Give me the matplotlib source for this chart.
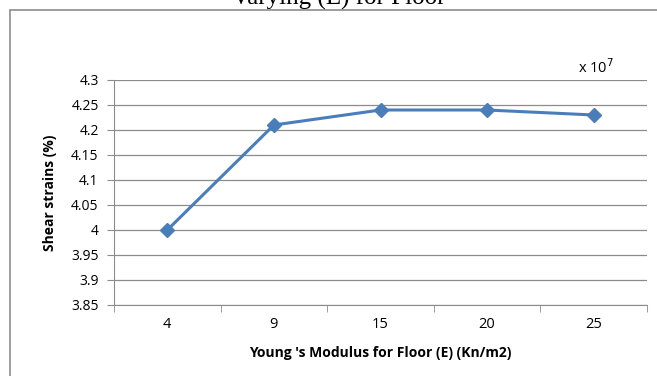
import matplotlib.pyplot as plt
from matplotlib.patches import Rectangle

# Data
categories = ['4', '9', '15', '20', '25']
shear_strain = [4.00, 4.21, 4.24, 4.24, 4.23]
y_ticks = [3.85, 3.9, 3.95, 4.0, 4.05, 4.1, 4.15, 4.2, 4.25, 4.3]
y_tick_labels = ['3.85', '3.9', '3.95', '4', '4.05', '4.1', '4.15', '4.2', '4.25', '4.3']

plt.rcParams['font.family'] = ['Open Sans', 'DejaVu Sans']

fig = plt.figure(figsize=(6.57, 3.76), dpi=100)
ax = fig.add_axes([114 / 657, 1 - 305 / 376, 533 / 657, 225 / 376])

# Chart border (right and bottom run off the image)
fig.patches.append(Rectangle((10 / 657, -0.1), 1.2, 1.1 - 10 / 376, transform=fig.transFigure,
                             fill=False, edgecolor='#8c8c8c', linewidth=1.2))

# Title, cut off at the top as in the source
fig.text(339 / 657, 1 - 5 / 376, 'Varying (E) for Floor', ha='center', va='baseline',
         family='Liberation Serif', fontsize=18)

x = list(range(len(categories)))
ax.plot(x, shear_strain, color='#4a7ebb', linewidth=2.2, marker='D', markersize=7,
        markerfacecolor='#4a7ebb', markeredgecolor='#4a7ebb', zorder=3)

ax.set_xlim(-0.5, len(categories) - 0.5)
ax.set_ylim(3.85, 4.3)
ax.set_yticks(y_ticks)
ax.set_yticklabels(y_tick_labels)
ax.set_xticks(x)
ax.set_xticklabels(categories)
ax.set_xticks([i - 0.5 for i in range(len(categories) + 1)], minor=True)

ax.tick_params(axis='x', which='major', length=0, pad=9, labelsize=10.5)
ax.tick_params(axis='x', which='minor', length=5, color='#8c8c8c')
ax.tick_params(axis='y', which='major', length=5, color='#8c8c8c', labelsize=10, pad=6)

ax.grid(axis='y', color='#8c8c8c', linewidth=0.9)
ax.set_axisbelow(True)
for side in ['top', 'right']:
    ax.spines[side].set_visible(False)
for side in ['left', 'bottom']:
    ax.spines[side].set_color('#8c8c8c')

ax.set_xlabel("Young 's Modulus for Floor (E) (Kn/m2)", fontsize=10, fontweight='bold', labelpad=10)
ax.set_ylabel('Shear strains (%)', fontsize=10, fontweight='bold', labelpad=10)

fig.text(578 / 657, 1 - 68 / 376, r'x 10$^7$', fontsize=10.5, va='center')

plt.savefig('out.png', dpi=100)
